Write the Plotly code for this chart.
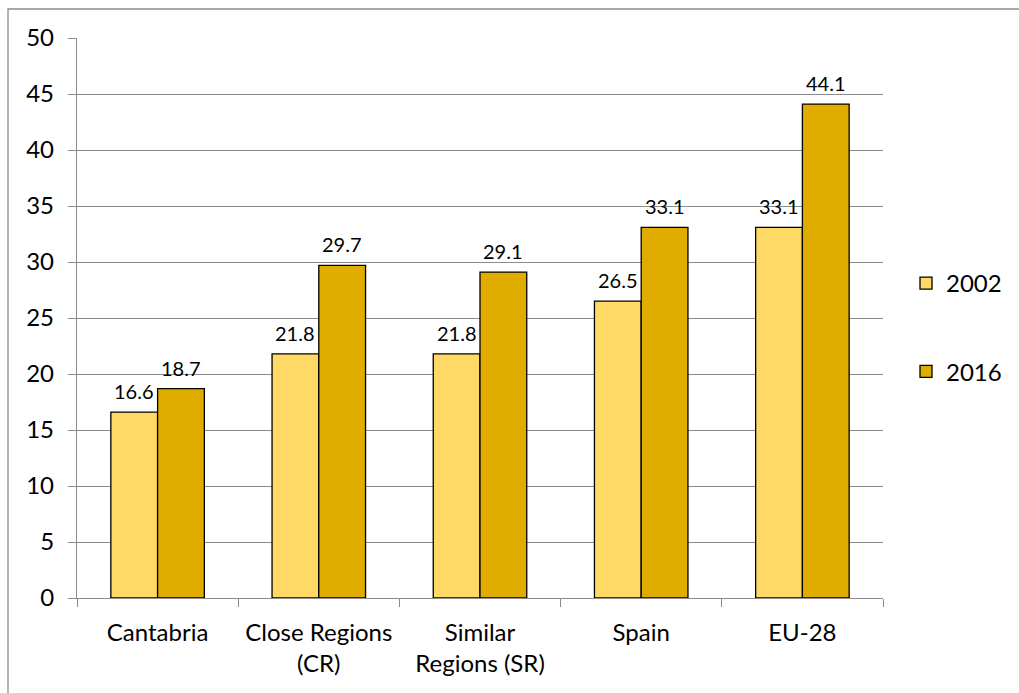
import plotly.graph_objects as go

# Category labels and values for each year
categories = ["Cantabria", "Close Regions<br>(CR)", "Similar<br>Regions (SR)", "Spain", "EU-28"]
values_2002 = [16.6, 21.8, 21.8, 26.5, 33.1]
values_2016 = [18.7, 29.7, 29.1, 33.1, 44.1]
y_ticks = [0, 5, 10, 15, 20, 25, 30, 35, 40, 45, 50]

FONT = "Lato"
LIGHT = "#FFD966"
DARK = "#E0AC00"
GRID = "#8C8C8C"

W, H = 1019, 693
ML, MR, MT, MB = 77, 136, 38, 95
plot_w = W - ML - MR
plot_h = H - MT - MB

fig = go.Figure()
fig.add_trace(go.Bar(
    name="2002", x=categories, y=values_2002,
    marker=dict(color=LIGHT, line=dict(color="#000000", width=1.3)),
    legendgroup="a",
))
fig.add_trace(go.Bar(
    name="2016", x=categories, y=values_2016,
    marker=dict(color=DARK, line=dict(color="#000000", width=1.3)),
    legendgroup="b",
))

# Value labels above each bar
bar_px = plot_w / len(categories) * (1 - 0.42) / 2
annotations = []
for series, sign in ((values_2002, -1), (values_2016, 1)):
    for cat, v in zip(categories, series):
        annotations.append(dict(
            x=cat, y=v, xref="x", yref="y", text=f"{v:.1f}", showarrow=False,
            xanchor="center", yanchor="bottom", xshift=sign * bar_px / 2, yshift=7,
            font=dict(family=FONT, size=20, color="#000000"),
        ))

# Outer chart frame
shapes = [dict(
    type="rect", xref="paper", yref="paper",
    x0=(8 - ML) / plot_w, x1=1.4, y0=-0.4, y1=(H - MB - 9) / plot_h,
    line=dict(color=GRID, width=1.3), fillcolor="rgba(0,0,0,0)", layer="below",
)]

fig.update_layout(
    width=W, height=H,
    margin=dict(l=ML, r=MR, t=MT, b=MB),
    paper_bgcolor="white", plot_bgcolor="white",
    barmode="group", bargap=0.42, bargroupgap=0,
    font=dict(family=FONT, size=24, color="#000000"),
    showlegend=True,
    legend=dict(
        x=(906 - ML) / plot_w, xanchor="left",
        y=(H - MB - 261) / plot_h, yanchor="top",
        tracegroupgap=54, font=dict(family=FONT, size=24),
        bgcolor="rgba(0,0,0,0)",
    ),
    annotations=annotations,
    shapes=shapes,
)
fig.update_xaxes(
    showline=True, linecolor=GRID, linewidth=1.3,
    ticks="outside", tickson="boundaries", ticklen=8, tickcolor=GRID, tickwidth=1.3,
    showgrid=False, ticklabelstandoff=13,
)
fig.update_yaxes(
    range=[0, 50], tickvals=y_ticks,
    showline=True, linecolor=GRID, linewidth=1.3,
    ticks="outside", ticklen=8, tickcolor=GRID, tickwidth=1.3,
    showgrid=True, gridcolor=GRID, gridwidth=1.3, zeroline=False,
    ticklabelstandoff=9,
)

fig.write_html("out.html")
